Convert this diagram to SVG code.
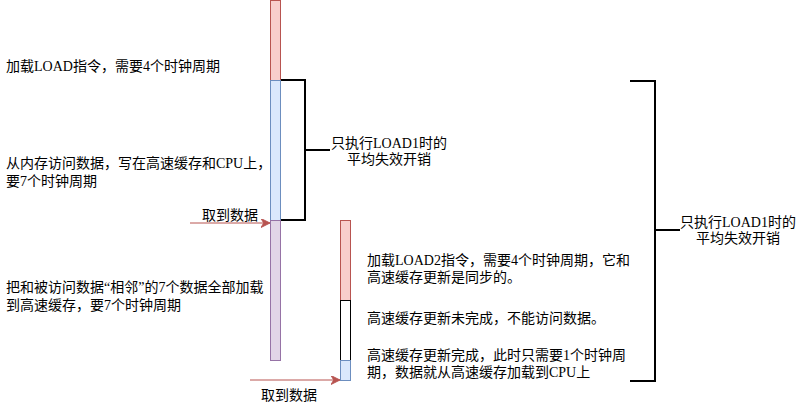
<svg xmlns="http://www.w3.org/2000/svg" width="801" height="411" viewBox="0 0 801 411">
<defs>
<style>
text{font-family:"Liberation Serif","Noto Sans CJK SC",sans-serif;font-size:14px;fill:#000}
.red{fill:#f8cecc;stroke:#b85450;stroke-width:1}
.blue{fill:#dae8fc;stroke:#6c8ebf;stroke-width:1}
.purple{fill:#e1d5e7;stroke:#9673a6;stroke-width:1}
.white{fill:#ffffff;stroke:#000000;stroke-width:1}
.brace{fill:none;stroke:#000;stroke-width:2}
.arrow{fill:none;stroke:#b85450;stroke-width:1}
.mid{text-anchor:middle}
</style>
<marker id="ah" viewBox="0 0 10 10" refX="10" refY="5" markerWidth="9" markerHeight="9" markerUnits="userSpaceOnUse" orient="auto">
<path d="M0,0 L10,5 L0,10 L3,5 Z" fill="#b85450" stroke="#b85450" stroke-width="1"/>
</marker>
</defs>
<rect width="801" height="411" fill="#ffffff"/>

<g id="bar1">
<rect id="load1" class="red" x="270.5" y="0.5" width="10" height="80"/>
<rect id="mem1" class="blue" x="270.5" y="80.5" width="10" height="140"/>
<rect id="adj1" class="purple" x="270.5" y="220.5" width="10" height="140"/>
</g>

<g id="bar2">
<rect id="load2" class="red" x="340.5" y="220.5" width="10" height="80"/>
<rect id="wait2" class="white" x="340.5" y="300.5" width="10" height="60"/>
<rect id="hit2" class="blue" x="340.5" y="360.5" width="10" height="20"/>
</g>

<g id="connectors">
<path class="brace" d="M281,80 H305 V220 H281 M305,150 H330"/>
<path class="brace" d="M630,81 H655 V381 H630 M655,230 H680"/>
<line class="arrow" x1="190" y1="223" x2="270" y2="223" marker-end="url(#ah)"/>
<line class="arrow" x1="250" y1="380" x2="340" y2="380" marker-end="url(#ah)"/>
</g>

<g id="labels-left">
<text x="6" y="71">加载LOAD指令，需要4个时钟周期</text>
<text x="6" y="168">从内存访问数据，写在高速缓存和CPU上，</text>
<text x="6" y="186">要7个时钟周期</text>
<text x="6" y="292">把和被访问数据“相邻”的7个数据全部加载</text>
<text x="6" y="310">到高速缓存，要7个时钟周期</text>
</g>

<g id="labels-right">
<text x="367" y="265">加载LOAD2指令，需要4个时钟周期，它和</text>
<text x="367" y="282">高速缓存更新是同步的。</text>
<text x="367" y="323">高速缓存更新未完成，不能访问数据。</text>
<text x="367" y="360">高速缓存更新完成，此时只需要1个时钟周</text>
<text x="367" y="377">期，数据就从高速缓存加载到CPU上</text>
</g>

<g id="label-brace1">
<text class="mid" x="389" y="148">只执行LOAD1时的</text>
<text class="mid" x="389" y="164">平均失效开销</text>
</g>
<g id="label-brace2">
<text class="mid" x="738" y="227">只执行LOAD1时的</text>
<text class="mid" x="738" y="243">平均失效开销</text>
</g>
<g id="label-arrows">
<text class="mid" x="230" y="220">取到数据</text>
<text class="mid" x="289" y="400">取到数据</text>
</g>
</svg>
